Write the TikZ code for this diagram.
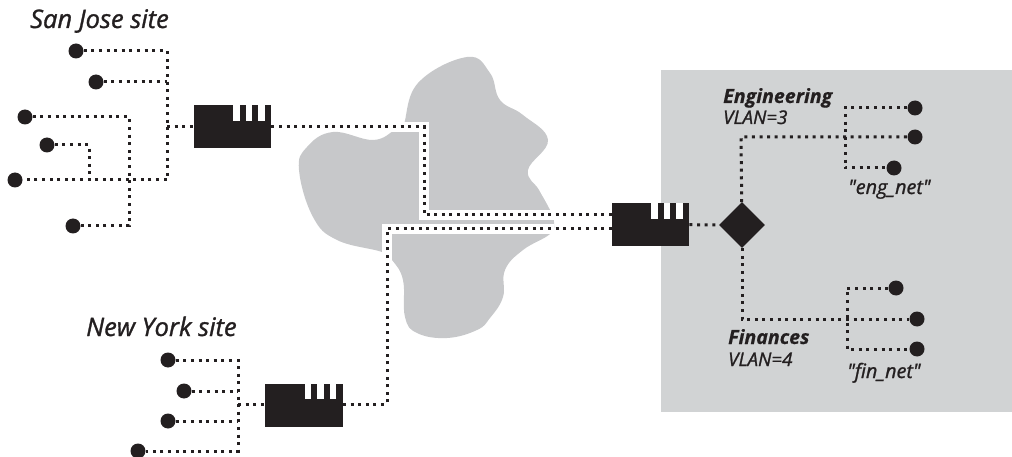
\documentclass[tikz,border=0pt]{standalone}
\usepackage{fontspec}
\setmainfont{Open Sans}
\newfontfamily\medfont{Open Sans}[ItalicFeatures={FakeBold=1.2}]
\newfontfamily\heavyfont{Open Sans}[BoldItalicFeatures={FakeBold=0.6}]
\usetikzlibrary{shapes.geometric}
\definecolor{inkblack}{HTML}{231F20}
\definecolor{cloudgray}{HTML}{C7C8CA}
\definecolor{panelgray}{HTML}{D1D3D4}
\tikzset{
  host/.style={circle,fill=inkblack,inner sep=0pt,minimum size=15pt},
  routerbox/.style={rectangle,fill=inkblack,inner sep=0pt,minimum width=77.5pt,minimum height=43pt},
  switchbox/.style={diamond,fill=inkblack,inner sep=0pt,minimum size=46pt},
  dotline/.style={inkblack,line width=3pt,dash pattern=on 3pt off 4.6pt},
  band/.style={white,line width=9.5pt},
  sitelabel/.style={inkblack,font=\fontsize{25.5}{28}\medfont\itshape,anchor=base west,inner sep=0pt},
  vlanname/.style={inkblack,font=\fontsize{19.6}{22}\heavyfont\bfseries\itshape,anchor=base west,inner sep=0pt},
  vlanlabel/.style={inkblack,font=\fontsize{18.8}{22}\medfont\itshape,anchor=base west,inner sep=0pt},
  netlabel/.style={vlanlabel,font=\fontsize{19.8}{22}\medfont\itshape}
}
\begin{document}
\begin{tikzpicture}[x=1pt,y=-1pt]
  \useasboundingbox (0,0) rectangle (1012,457);
  % zona gris y nube
  \fill[panelgray] (661,70) rectangle (1012,412);
  \fill[cloudgray] plot[smooth cycle,tension=0.7] coordinates {
    (403,127) (418,83) (467,57) (490,73) (500,100) (523,115) (548,140)
    (528,170) (539,190) (550,210) (554,222) (550,234) (523,250) (505,270) (503,297)
    (490,318) (477,330) (447,338) (417,333) (405,317) (403,280) (392,260) (382,252)
    (337,240) (313,217) (299,170) (307,147) (333,132) (373,140) (395,130)};
  % sitios y enrutadores
  \node[sitelabel] (sjlabel) at (30,28) {San Jose site};
  \node[sitelabel] (nylabel) at (86,336) {New York site};
  \node[routerbox] (sjrouter) at (232.5,127) {};
  \node[routerbox] (hqrouter) at (650.5,224.5) {};
  \node[routerbox] (nyrouter) at (304,405) {};
  \foreach \r in {sjrouter,hqrouter,nyrouter}
    \foreach \dx in {0.5,13,25.5}
      \fill[white] ([xshift=\dx pt]\r.north) rectangle +(6.5,16);
  \node[switchbox] (vlansw) at (742,225) {};
  % hosts
  \node[host] (sja) at (76,51) {};
  \node[host] (sjb) at (96,82) {};
  \node[host] (sjc) at (25,117) {};
  \node[host] (sjd) at (47,145) {};
  \node[host] (sje) at (15,180) {};
  \node[host] (sjf) at (73,226) {};
  \node[host] (nya) at (168,360) {};
  \node[host] (nyb) at (184,391) {};
  \node[host] (nyc) at (168,421) {};
  \node[host] (nyd) at (138,451) {};
  \node[host] (enga) at (915,108) {};
  \node[host] (engb) at (915,137) {};
  \node[host] (engc) at (894,168) {};
  \node[host] (fina) at (896,288) {};
  \node[host] (finb) at (917,319) {};
  \node[host] (finc) at (917,349) {};
  % puntos de union
  \coordinate (sjbus) at (167,127);
  \coordinate (sjtop) at (167,51);
  \coordinate (sjlow) at (167,180);
  \coordinate (sjb2) at (167,82);
  \coordinate (sjc2) at (129,117);
  \coordinate (sjf2) at (129,226);
  \coordinate (sjd2) at (89,145);
  \coordinate (sjd3) at (89,180);
  \coordinate (sjout) at (424,127);
  \coordinate (sjin) at (424,215);
  \coordinate (hqa) at (612,215);
  \coordinate (hqb) at (612,229);
  \coordinate (nyin) at (387,229);
  \coordinate (nyout) at (387,404);
  \coordinate (nybus) at (238,404);
  \coordinate (nytop) at (238,360);
  \coordinate (nyb2) at (238,391);
  \coordinate (nyc2) at (238,421);
  \coordinate (nylow) at (238,451);
  \coordinate (engup) at (741,137);
  \coordinate (engtop) at (845,108);
  \coordinate (englow) at (845,168);
  \coordinate (findn) at (742,319);
  \coordinate (fintop) at (847,288);
  \coordinate (finlow) at (847,349);
  % franjas blancas sobre la nube
  \draw[band] (380,127) -- (sjout) -- (sjin) -- (554,215);
  \draw[band] (554,229) -- (nyin) -- (387,300);
  % San Jose
  \draw[dotline] (sja) -- (sjtop) -- (sjlow) -- (sje);
  \draw[dotline] (sjb) -- (sjb2);
  \draw[dotline] (sjc) -- (sjc2) -- (sjf2) -- (sjf);
  \draw[dotline] (sjd) -- (sjd2) -- (sjd3);
  \draw[dotline] (sjbus) -- (sjrouter);
  % enlaces por la nube
  \draw[dotline] (sjrouter) -- (sjout) -- (sjin) -- (hqa);
  \draw[dotline] (nyrouter.east |- nyout) -- (nyout) -- (nyin) -- (hqb);
  % New York
  \draw[dotline] (nya) -- (nytop) -- (nylow) -- (nyd);
  \draw[dotline] (nyb) -- (nyb2);
  \draw[dotline] (nyc) -- (nyc2);
  \draw[dotline] (nybus) -- (nyrouter.west |- nybus);
  % VLANs
  \draw[dotline] (hqrouter) -- (vlansw);
  \draw[dotline] (vlansw) -- (engup) -- (engb);
  \draw[dotline] (enga) -- (engtop) -- (englow) -- (engc);
  \draw[dotline] (vlansw) -- (findn) -- (finb);
  \draw[dotline] (fina) -- (fintop) -- (finlow) -- (finc);
  \node[vlanname] (englabel) at (723,103) {Engineering};
  \node[vlanlabel] (engvlan) at (723,124) {VLAN=3};
  \node[netlabel] (engnet) at (848,194) {"eng\_net"};
  \node[vlanname] (finlabel) at (728,344) {Finances};
  \node[vlanlabel] (finvlan) at (728,366) {VLAN=4};
  \node[netlabel] (finnet) at (847,378) {"fin\_net"};
\end{tikzpicture}
\end{document}
